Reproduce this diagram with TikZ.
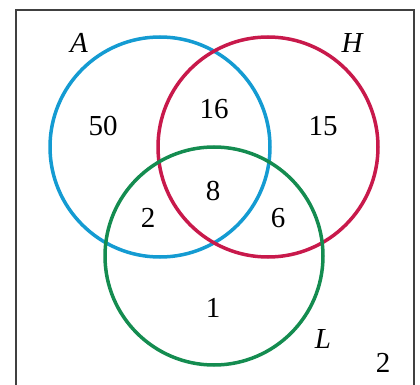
\documentclass[tikz,border=0pt]{standalone}
\usepackage{fontspec}
\setmainfont{Liberation Serif}
\begin{document}
\begin{tikzpicture}[x=1pt,y=-1pt,
  ring/.style={line width=3.5pt},
  num/.style={font=\fontsize{29}{32}\selectfont, inner sep=0pt},
  lab/.style={font=\fontsize{29}{32}\selectfont\itshape, inner sep=0pt}]
\definecolor{cA}{RGB}{20,155,210}
\definecolor{cH}{RGB}{200,25,75}
\definecolor{cL}{RGB}{20,140,80}
\useasboundingbox (0,0) rectangle (420,385);
\clip (0,0) rectangle (420,385);
\draw[line width=1.5pt, black!75] (16,10) rectangle (414,400);
\draw[ring, cA] (160,147) circle (110);
\draw[ring, cH] (268,147) circle (110);
\draw[ring, cL] (214,256) circle (109);
\node[lab] (la) at (79,43) {A};
\node[lab] (lh) at (352,43) {H};
\node[lab] (ll) at (323,339) {L};
\node[num] (n50) at (103,126) {50};
\node[num] (n16) at (214,109) {16};
\node[num] (n15) at (323,126) {15};
\node[num] (n8) at (213,191) {8};
\node[num] (n2a) at (148,218) {2};
\node[num] (n6) at (278,218) {6};
\node[num] (n1) at (213,308) {1};
\node[num] (n2b) at (383,363) {2};
\end{tikzpicture}
\end{document}
